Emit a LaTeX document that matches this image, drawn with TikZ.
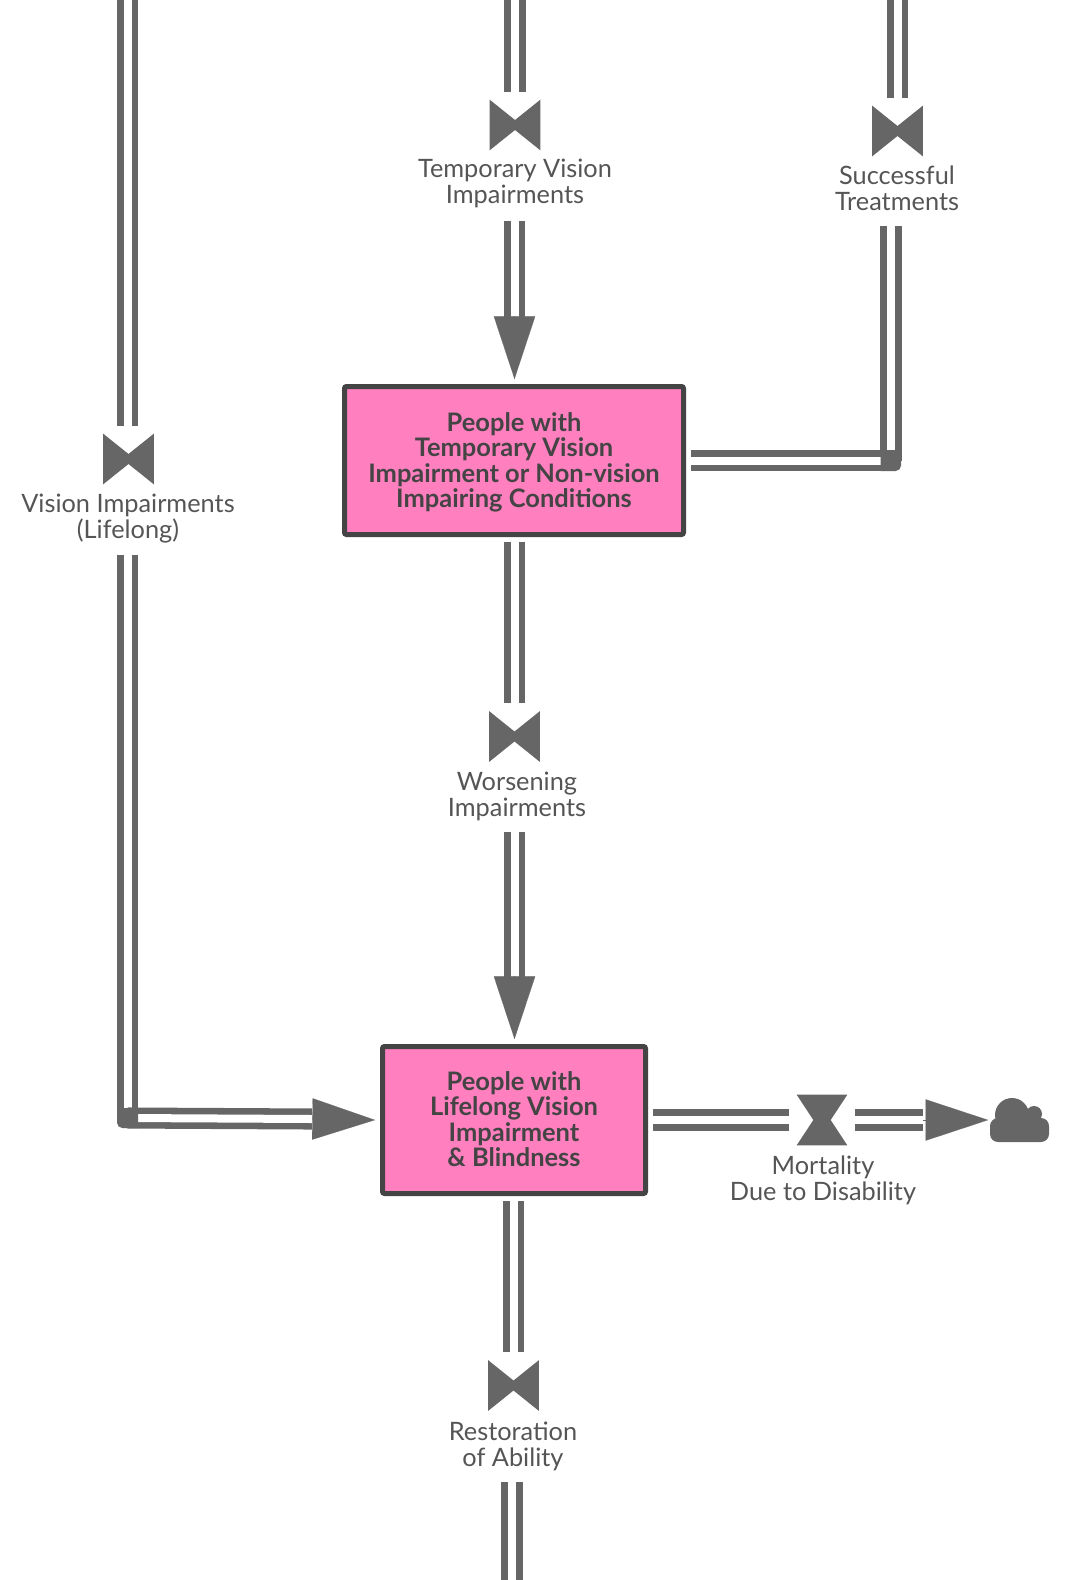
\documentclass[tikz,border=0pt]{standalone}
\usepackage{fontspec}
\setmainfont{Lato}
\usetikzlibrary{arrows.meta}
\definecolor{pipegray}{HTML}{666666}
\definecolor{labelgray}{HTML}{555555}
\definecolor{boxpink}{HTML}{FF7FBF}
\definecolor{boxedge}{HTML}{444444}

\begin{document}
\begin{tikzpicture}[
x=0.75pt, y=-0.75pt,
stocknode/.style={rectangle, rounded corners=1.5pt, draw=boxedge, fill=boxpink, line width=3.75pt, inner sep=0pt, outer sep=5.6pt, align=center, text=boxedge, font=\fontsize{19.1}{19.1}\selectfont\bfseries},
valvenode/.style={minimum size=38pt, inner sep=0pt, outer sep=6pt, path picture={
    \fill[pipegray] (-19pt,19pt) -- (0pt,3.75pt) -- (19pt,19pt) -- (19pt,-19pt) -- (0pt,-3.75pt) -- (-19pt,-19pt) -- cycle;}},
flatvalve/.style={minimum size=38pt, inner sep=0pt, outer sep=6pt, path picture={
    \fill[pipegray] (-19pt,19pt) -- (19pt,19pt) -- (6.5pt,0pt) -- (19pt,-19pt) -- (-19pt,-19pt) -- (-6.5pt,0pt) -- cycle;}},
flowlabel/.style={minimum height=54pt, inner sep=0pt, outer sep=0pt, align=center, text=labelgray, font=\fontsize{19}{19.6}\selectfont},
pipe/.style={draw=pipegray, line width=4.9pt, double=white, double distance=6pt},
headline/.style={draw=pipegray, line width=0.1pt, -{Triangle[length=47pt,width=31pt,fill=pipegray]}}
]
    \useasboundingbox (0,0) rectangle (1076,1580);

    \coordinate (top1) at (127.5,-10);
    \coordinate (top2) at (515,-10);
    \coordinate (top3) at (897.5,-10);
    \coordinate (end1) at (512,1590);
    \coordinate (bend1) at (127.5,1118);
    \coordinate (bend2) at (891,460.5);
    \coordinate (base1) at (514.5,317);
    \coordinate (base2) at (514.5,977);
    \coordinate (base3) at (312,1119);
    \coordinate (base4) at (923,1120);

    \node [stocknode, minimum width=254.25pt, minimum height=111pt] (temp) at (514,460.5) {\rule{0pt}{17pt}People with\\Temporary Vision\\Impairment or Non-vision\\Impairing Conditions};
    \node [stocknode, minimum width=197.25pt, minimum height=110.25pt] (life) at (514,1120) {People with\\Lifelong Vision\\Impairment\\\rule[-1.5pt]{0pt}{0pt}\& Blindness};

    \node [valvenode] (v1) at (128.5,459) {};
    \node [valvenode] (v2) at (515,125) {};
    \node [valvenode] (v3) at (897.5,131) {};
    \node [valvenode] (v4) at (514.5,736.5) {};
    \node [flatvalve] (v5) at (822,1120) {};
    \node [valvenode] (v6) at (513.5,1385.5) {};

    \node [flowlabel] (l1) at (128,519) {Vision Impairments\\(Lifelong)};
    \node [flowlabel, minimum height=57pt] (l2) at (515,183.5) {Temporary Vision\\Impairments};
    \node [flowlabel, minimum height=57pt] (l3) at (897,188.5) {Successful\\Treatments};
    \node [flowlabel] (l4) at (517,796) {Worsening\\Impairments};
    \node [flowlabel] (l5) at (823,1180) {Mortality\\Due to Disability};
    \node [flowlabel] (l6) at (513,1446) {Restoration\\of Ability};

    \node [minimum width=44pt, minimum height=33pt, inner sep=0pt, outer sep=1.5pt] (sink) at (1019.5,1120) {};
    \fill [pipegray, rounded corners=6pt] (990,1118) rectangle (1049,1142);
    \fill [pipegray] (1012,1115) circle [radius=17];
    \fill [pipegray] (1034,1114) circle [radius=8];

    \draw [pipe] (top1) -- (top1 |- v1.north);
    \draw [pipe] (top2) -- (v2.north);
    \draw [pipe] (top3) -- (v3.north);
    \draw [pipe] (bend1 |- l1.south) -- (bend1);
    \draw [pipe] (bend1) -- (base3);
    \draw [pipe] (base1 |- l2.south) -- (base1);
    \draw [pipe] (bend2 |- l3.south) -- (bend2);
    \draw [pipe] (bend2) -- (temp.east);
    \draw [pipe] (v4 |- temp.south) -- (v4.north);
    \draw [pipe] (base2 |- l4.south) -- (base2);
    \draw [pipe] (life.east) -- (v5.west);
    \draw [pipe] (v5.east) -- (base4);
    \draw [pipe] (v6 |- life.south) -- (v6.north);
    \draw [pipe] (end1 |- l6.south) -- (end1);

    \fill [pipegray] (117,1108) -- (138,1108) -- (138,1128) [rounded corners=4pt] -- (117,1128) [sharp corners] -- cycle;
    \fill [pipegray] (880.5,450) -- (901,450) [rounded corners=4pt] -- (901,471) [sharp corners] -- (880.5,471) -- cycle;

    \draw [headline] (base1) -- (base1 |- temp.north);
    \draw [headline] (base2) -- (base2 |- life.north);
    \draw [headline] (base3) -- (life.west);
    \draw [headline] (base4) -- (sink.west);
\end{tikzpicture}
\end{document}
